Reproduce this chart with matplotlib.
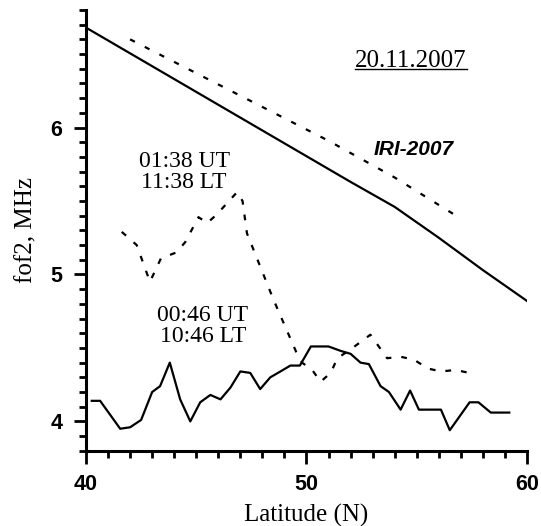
import numpy as np
import matplotlib.pyplot as plt
from matplotlib.ticker import MultipleLocator

# IRI-2007 model curves
iri_lat_1 = [40, 44, 48, 52, 54, 56, 58, 60]
iri_fof2_1 = [6.68, 6.33, 5.98, 5.63, 5.46, 5.25, 5.03, 4.82]
iri_lat_2 = [42, 45, 48, 51, 54, 57]
iri_fof2_2 = [6.60, 6.37, 6.14, 5.91, 5.66, 5.38]

# observed profile, 00:46 UT (solid)
obs1_lat = [40.26, 40.64, 41.55, 42.0, 42.5, 43.0, 43.36, 43.8, 44.27, 44.73,
            45.18, 45.64, 46.1, 46.55, 47.0, 47.45, 47.9, 48.36, 48.82, 49.27,
            49.7, 50.2, 51.0, 51.55, 52.0, 52.45, 52.83, 53.36, 53.74, 54.27,
            54.7, 55.1, 56.1, 56.5, 57.4, 57.8, 58.36, 59.2]
obs1_fof2 = [4.14, 4.14, 3.95, 3.96, 4.01, 4.20, 4.24, 4.40, 4.15, 4.00,
             4.13, 4.18, 4.15, 4.23, 4.34, 4.33, 4.22, 4.30, 4.34, 4.38,
             4.38, 4.51, 4.51, 4.48, 4.46, 4.40, 4.39, 4.24, 4.20, 4.08,
             4.21, 4.08, 4.08, 3.94, 4.13, 4.13, 4.06, 4.06]

# observed profile, 01:38 UT (dashed)
obs2_lat = [41.62, 42.3, 42.9, 43.4, 44.1, 44.5, 45.1, 45.5, 45.94, 46.85,
            47.1, 47.3, 48.5, 49.57, 49.8, 50.26, 50.64, 51.1, 51.4, 52.0,
            52.9, 53.66, 54.27, 54.88, 55.5, 56.1, 56.77, 57.38]
obs2_fof2 = [5.29, 5.20, 4.95, 5.11, 5.15, 5.22, 5.39, 5.35, 5.41, 5.56,
             5.50, 5.28, 4.83, 4.46, 4.40, 4.35, 4.27, 4.33, 4.43, 4.49,
             4.59, 4.43, 4.44, 4.42, 4.36, 4.34, 4.35, 4.33]

serif = 'Liberation Serif'
sans = 'Liberation Sans'

fig = plt.figure(figsize=(5.41, 5.26), dpi=100)
ax = fig.add_axes([0.159, 0.143, 0.815, 0.838])

ax.plot(iri_lat_1, iri_fof2_1, color='black', lw=1.6)
ax.plot(iri_lat_2, iri_fof2_2, color='black', lw=1.6, linestyle=(0, (2.4, 5)))
ax.plot(obs1_lat, obs1_fof2, color='black', lw=1.6)
ax.plot(obs2_lat, obs2_fof2, color='black', lw=1.6, linestyle=(0, (2.6, 4.5)))

ax.set_xlim(40, 60)
ax.set_ylim(3.8, 6.8)
ax.xaxis.set_major_locator(MultipleLocator(10))
ax.xaxis.set_minor_locator(MultipleLocator(1))
ax.yaxis.set_major_locator(MultipleLocator(1))
ax.yaxis.set_minor_locator(MultipleLocator(0.1))

for s in ['top', 'right']:
    ax.spines[s].set_visible(False)
for s in ['left', 'bottom']:
    ax.spines[s].set_linewidth(2.2)

ax.tick_params(which='major', direction='out', length=9, width=2, pad=8)
ax.tick_params(which='minor', direction='out', length=5, width=2)
for lab in ax.get_xticklabels() + ax.get_yticklabels():
    lab.set_fontfamily(sans)
    lab.set_fontweight('bold')
    lab.set_fontsize(15.5)

ax.set_xlabel('Latitude (N)', family=serif, fontsize=18, labelpad=6)
ax.set_ylabel('fof2, MHz', family=serif, fontsize=18, labelpad=9)

date = ax.text(54.73, 6.45, '20.11.2007', family=serif, fontsize=18,
               ha='center', va='center')
ax.text(54.86, 5.85, 'IRI-2007', family=sans, fontsize=15, fontweight='bold',
        fontstyle='italic', ha='center', va='center')
ax.text(44.45, 5.70, '01:38 UT\n11:38 LT', family=serif, fontsize=17,
        ha='center', va='center', linespacing=1.0)
ax.text(45.3, 4.65, '00:46 UT\n10:46 LT', family=serif, fontsize=17,
        ha='center', va='center', linespacing=1.0)

# underline the date
fig.canvas.draw()
bb = date.get_window_extent().transformed(ax.transData.inverted())
ax.plot([bb.x0, bb.x1], [bb.y0 + 0.02, bb.y0 + 0.02], color='black', lw=1)

fig.savefig('out.png', dpi=100)
